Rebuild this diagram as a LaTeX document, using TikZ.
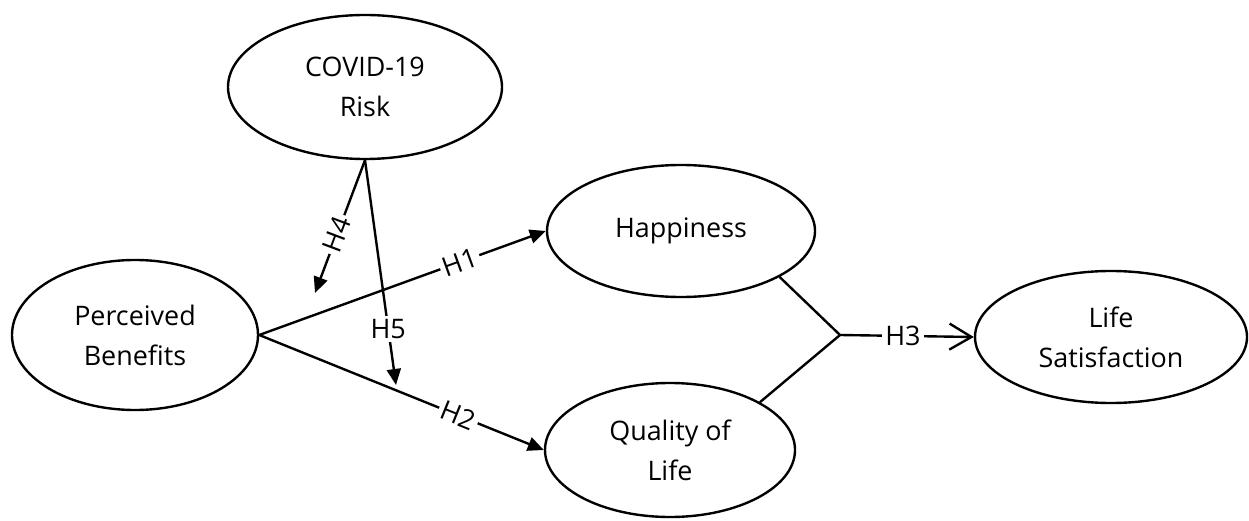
\documentclass[tikz,border=0pt]{standalone}
\usepackage{fontspec}
\setmainfont{Open Sans}
\usetikzlibrary{arrows.meta,shapes.geometric}

\begin{document}
\begin{tikzpicture}[x=0.5bp, y=-0.5bp, font=\fontsize{13.5pt}{20pt}\selectfont, line width=1.2pt,
  construct/.style={draw, ellipse, inner sep=0pt, align=center},
  hyp/.style={fill=white, inner sep=1.5pt},
  solidtip/.style={-{Triangle[length=8bp, width=7bp]}},
  opentip/.style={-{Straight Barb[length=11bp, width=13bp]}}]

\useasboundingbox (0,0) rectangle (1249,521);

% ==================== CONSTRUCTS ====================
\node[construct, minimum width=137bp, minimum height=72bp] (CR) at (365, 87) {COVID-19\\Risk};
\node[construct, minimum width=123bp, minimum height=75bp] (PB) at (135, 335) {Perceived\\Benefits};
\node[construct, minimum width=134bp, minimum height=66bp] (HP) at (681, 231) {Happiness};
\node[construct, minimum width=125bp, minimum height=67bp] (QL) at (670, 450) {Quality of\\Life};
\node[construct, minimum width=136bp, minimum height=66bp] (LS) at (1111, 337) {Life\\Satisfaction};

% Free ends of the moderating paths and the joint of H3
\coordinate (H4end) at (315, 293);
\coordinate (H5end) at (396, 385);
\coordinate (J) at (840, 335);

% ==================== PATHS ====================
% Direct effects
\draw[solidtip] (PB.east) -- node[hyp, sloped, pos=0.7] {H1} (HP.west);
\draw[solidtip] (PB.east) -- node[hyp, sloped, pos=0.7] {H2} (QL.west);

% Moderation by COVID-19 risk
\draw[solidtip] (CR.south) -- node[hyp, sloped, pos=0.56] {H4} (H4end);
\draw[solidtip] (CR.south) -- node[hyp, pos=0.75] {H5} (H5end);

% Happiness and quality of life -> life satisfaction
\draw (HP.-25) -- (J);
\draw (QL.28) -- (J);
\draw[opentip] (J) -- node[hyp, pos=0.47] {H3} (LS.west);

\end{tikzpicture}
\end{document}
